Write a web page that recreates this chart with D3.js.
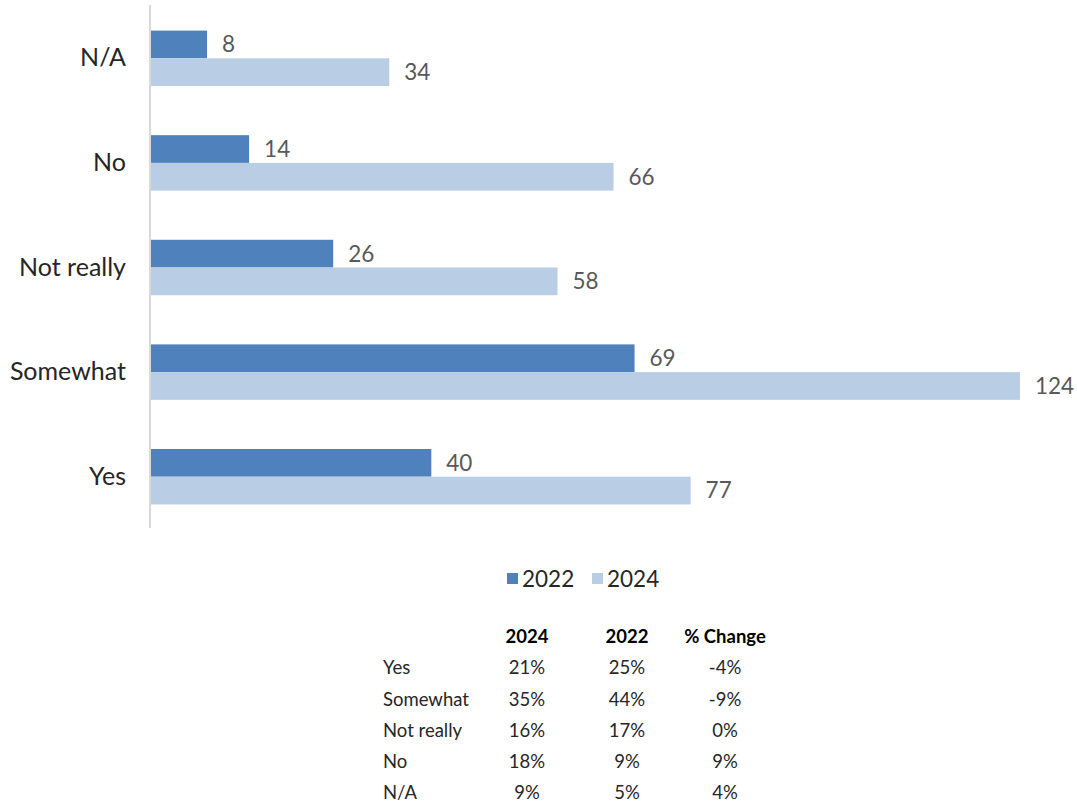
<!DOCTYPE html>
<html><head><meta charset="utf-8">
<script src="https://cdn.jsdelivr.net/npm/d3@7"></script>
<style>body{margin:0;background:#fff}svg{display:block}</style>
</head><body>
<svg id="c" width="1077" height="807"></svg>
<script>
const categories = ["N/A", "No", "Not really", "Somewhat", "Yes"];
const seriesNames = ["2022", "2024"];
const values2022 = [8, 14, 26, 69, 40];
const values2024 = [34, 66, 58, 124, 77];
const tableHeader = ["2024", "2022", "% Change"];
const tableRows = ["Yes", "Somewhat", "Not really", "No", "N/A"];
const pct2024 = ["21%", "35%", "16%", "18%", "9%"];
const pct2022 = ["25%", "44%", "17%", "9%", "5%"];
const pctChange = ["-4%", "-9%", "0%", "9%", "4%"];

const colors = {"2022": "#4F81BD", "2024": "#B9CDE5"};
const font = "Lato, 'Open Sans', sans-serif";
const svg = d3.select("#c");

const x = d3.scaleLinear().domain([0, 124]).range([151, 1020]);
const y = d3.scaleBand().domain(categories).range([6, 529]).paddingInner(0.47).paddingOuter(0.235);
const ySub = d3.scaleBand().domain(seriesNames).range([0, y.bandwidth()]);

const data = categories.map((c, i) => ({cat: c, vals: [
  {s: "2022", v: values2022[i]}, {s: "2024", v: values2024[i]}]}));

const g = svg.append("g");
const groups = g.selectAll("g.cat").data(data).join("g")
  .attr("transform", d => `translate(0,${y(d.cat)})`);
groups.selectAll("rect").data(d => d.vals).join("rect")
  .attr("x", x(0)).attr("y", d => ySub(d.s))
  .attr("width", d => x(d.v) - x(0)).attr("height", ySub.bandwidth())
  .attr("fill", d => colors[d.s]);
groups.selectAll("text").data(d => d.vals).join("text")
  .attr("x", d => x(d.v) + 15).attr("y", d => ySub(d.s) + ySub.bandwidth() / 2)
  .attr("dy", "0.35em").attr("font-family", font).attr("font-size", 22.5)
  .attr("fill", "#595959").text(d => d.v);

// category axis
const yAxis = d3.axisLeft(y).tickSize(0).tickPadding(24);
const ax = svg.append("g").attr("transform", "translate(150,0)").call(yAxis);
ax.select(".domain").attr("stroke", "#d9d9d9").attr("stroke-width", 2).attr("d", "M0,5V528");
ax.selectAll("text").attr("font-family", font).attr("font-size", 25).attr("fill", "#262626");

// legend
const leg = svg.append("g").attr("font-family", font).attr("font-size", 22.5).attr("fill", "#404040");
const legX = [507, 592];
seriesNames.forEach((s, i) => {
  leg.append("rect").attr("x", legX[i]).attr("y", 573).attr("width", 11).attr("height", 11).attr("fill", colors[s]);
  leg.append("text").attr("x", legX[i] + 15).attr("y", 579).attr("dy", "0.35em").attr("fill", "#262626").text(s);
});

// table
const tb = svg.append("g").attr("font-family", font).attr("font-size", 18.5).attr("fill", "#000");
const colX = [527, 627, 725];
tableHeader.forEach((h, i) => {
  tb.append("text").attr("x", colX[i]).attr("y", 637).attr("dy", "0.35em")
    .attr("text-anchor", "middle").attr("font-weight", "bold").text(h);
});
const rowY = d3.scalePoint().domain(tableRows).range([668, 793]);
tableRows.forEach((r, i) => {
  const yy = rowY(r);
  tb.append("text").attr("x", 383).attr("y", yy).attr("dy", "0.35em").attr("fill", "#262626").text(r);
  [pct2024[i], pct2022[i], pctChange[i]].forEach((v, j) => {
    tb.append("text").attr("x", colX[j]).attr("y", yy).attr("dy", "0.35em")
      .attr("text-anchor", "middle").attr("fill", "#262626").text(v);
  });
});
</script>
</body></html>
